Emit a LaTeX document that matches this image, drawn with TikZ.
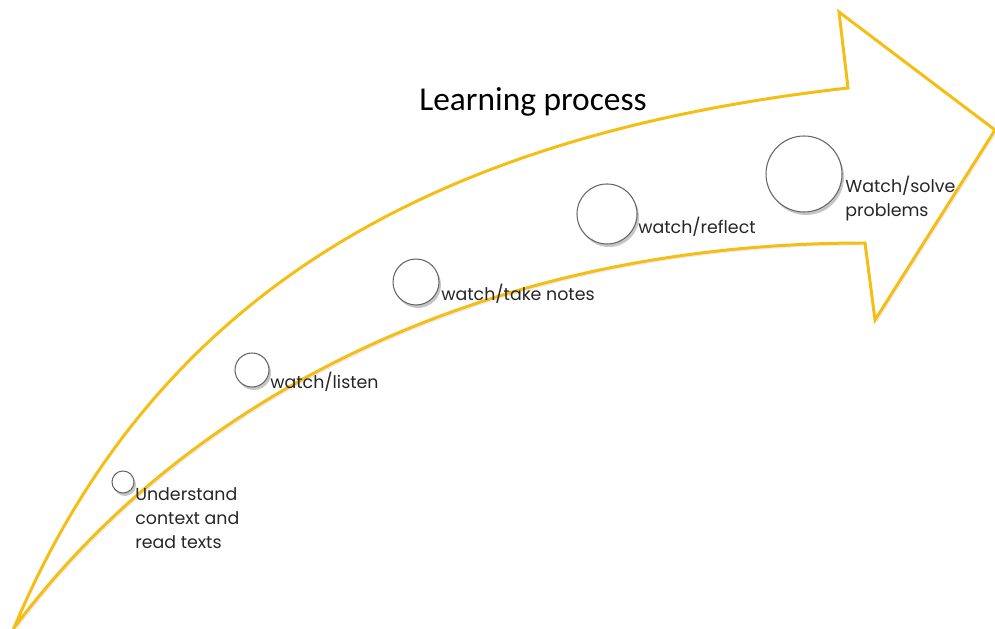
\documentclass[tikz,border=0pt]{standalone}
\usepackage{fontspec}
\setmainfont{Carlito}
\newfontfamily\labelfont{Poppins}
\usepackage{tikz}
\usetikzlibrary{calc}
\usetikzlibrary{shadows}
\usetikzlibrary{positioning,shapes}
\definecolor{arrowgold}{RGB}{245,190,20}
\tikzstyle{bigarrow}=[draw=arrowgold, line width=1.7pt, fill=white, line join=miter,
		drop shadow={opacity=0.15, shadow xshift=0.04cm, shadow yshift=-0.05cm}]
\tikzstyle{stage}=[circle, draw=gray!80!black, line width=0.6pt, fill=white, inner sep=0pt,
		drop shadow={opacity=0.45, shadow xshift=0.04cm, shadow yshift=-0.06cm}]
\tikzstyle{stagetext}=[inner sep=0pt, align=left, text=black!85,
		font=\labelfont\fontsize{9.9}{13.6}\selectfont]

\begin{document}
\begin{tikzpicture}

  \useasboundingbox (0,0) rectangle (19.9,12.56);

  % the curved arrow
  \draw[bigarrow] (0.28,0)
    .. controls (3.2,6.95) and (9,9.9) .. (16.96,10.8)
    -- (16.78,12.32) -- (19.9,9.96) -- (17.5,6.16) -- (17.3,7.7)
    .. controls (9.5,7.7) and (3.6,4.45) .. cycle;

  \node (Title) [font=\fontsize{19}{23}\selectfont] at (10.66,10.52) {Learning process};

  % stages, growing along the arrow
  \node (Read)    [stage, minimum size=0.44cm] at (2.46,2.92) {};
  \node (Listen)  [stage, minimum size=0.68cm] at (5.04,5.16) {};
  \node (Notes)   [stage, minimum size=0.92cm] at (8.32,6.92) {};
  \node (Reflect) [stage, minimum size=1.20cm] at (12.14,8.28) {};
  \node (Solve)   [stage, minimum size=1.52cm] at (16.08,9.08) {};

  \node (ReadTxt)    [stagetext, anchor=north west] at (2.70,2.82)
    {Understand\\context and\\read texts};
  \node (ListenTxt)  [stagetext, anchor=west] at (5.40,4.92) {watch/listen};
  \node (NotesTxt)   [stagetext, anchor=west] at (8.82,6.68) {watch/take notes};
  \node (ReflectTxt) [stagetext, anchor=west] at (12.76,8.02) {watch/reflect};
  \node (SolveTxt)   [stagetext, anchor=west] at (16.90,8.58)
    {Watch/solve\\problems};

\end{tikzpicture}
\end{document}
